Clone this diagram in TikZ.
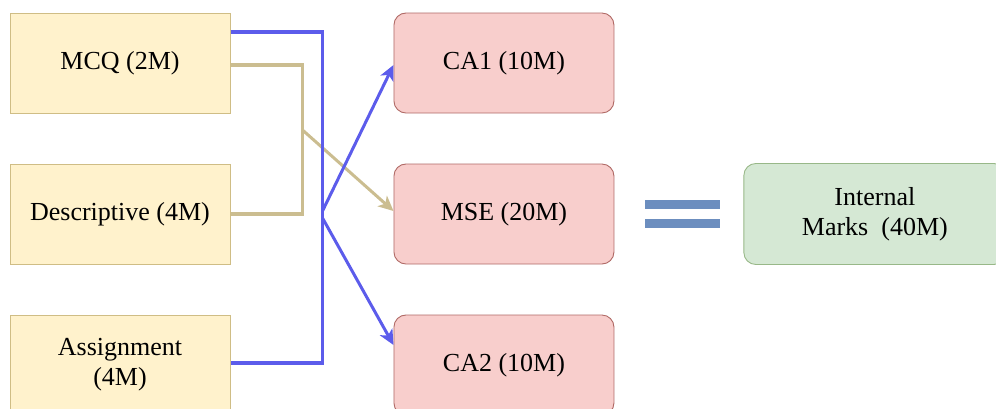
\documentclass[tikz,border=0pt]{standalone}
\usepackage{fontspec}
\setmainfont{Liberation Serif}
\usepackage{tikz}
\usetikzlibrary{arrows.meta,positioning}

\definecolor{partfill}{HTML}{FFF2CC}
\definecolor{partline}{HTML}{CFBD85}
\definecolor{examfill}{HTML}{F8CECC}
\definecolor{examline}{HTML}{B06A66}
\definecolor{totalfill}{HTML}{D5E8D4}
\definecolor{totalline}{HTML}{98B888}
\definecolor{wireblue}{HTML}{5C5CEB}
\definecolor{wiretan}{HTML}{CBBD90}
\definecolor{eqblue}{HTML}{6C8EBF}

\begin{document}
\begin{tikzpicture}[
    node distance=50pt and 163pt,
    part/.style={draw=partline, fill=partfill, line width=1pt, align=center, minimum width=220pt, minimum height=100pt, font=\fontsize{26}{30}\selectfont},
    exam/.style={part, draw=examline, fill=examfill, rounded corners=12pt, line width=0.9pt},
    total/.style={exam, draw=totalline, fill=totalfill, minimum width=262pt, minimum height=101pt},
    eqbar/.style={fill=eqblue, minimum width=75pt, minimum height=9pt, inner sep=0pt},
    bluewire/.style={draw=wireblue, line width=3.6pt},
    tanwire/.style={draw=wiretan, line width=3.4pt},
    bluearr/.style={bluewire, line width=3pt, -{Stealth[length=15pt, width=14pt, inset=4pt]}},
    tanarr/.style={tanwire, line width=3pt, -{Stealth[length=15pt, width=14pt, inset=4pt]}}
]
\useasboundingbox (0,0) rectangle (996pt,-408pt);
\node[part] (mcq) at (120pt,-63pt) {MCQ (2M)};
\node[part, below=of mcq] (desc) {Descriptive (4M)};
\node[part, below=of desc] (assign) {Assignment\\(4M)};
\node[exam, right=of mcq] (ca1) {CA1 (10M)};
\node[exam, right=of desc] (mse) {MSE (20M)};
\node[exam, right=of assign] (ca2) {CA2 (10M)};
\node[eqbar, right=30pt of mse, yshift=9.5pt] (eqtop) {};
\node[eqbar, below=10pt of eqtop] (eqbot) {};
\node[total, right=129pt of mse] (marks) {Internal\\Marks\ \ (40M)};
\coordinate (tjoin) at ([xshift=72pt, yshift=-67pt]mcq.east);
\coordinate (bjoin) at ([xshift=92pt]desc.east);
\draw[tanwire] ([yshift=-2pt]mcq.east) -| (tjoin) |- (desc.east);
\draw[tanarr] (tjoin) -- ([yshift=3pt]mse.west);
\draw[bluewire] ([yshift=31pt]mcq.east) -| (bjoin) |- ([yshift=2pt]assign.east);
\draw[bluearr] ([yshift=3pt]bjoin) -- ([yshift=-2pt]ca1.west);
\draw[bluearr] ([yshift=-4pt]bjoin) -- ([yshift=20pt]ca2.west);
\end{tikzpicture}
\end{document}
